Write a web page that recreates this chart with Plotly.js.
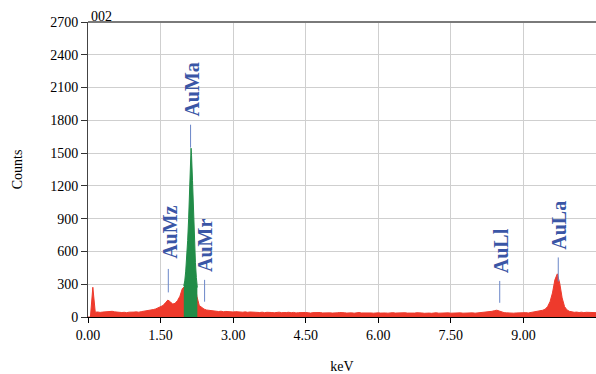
<!DOCTYPE html>
<html>
<head>
<meta charset="utf-8">
<script src="https://cdn.plot.ly/plotly-3.0.1.min.js"></script>
<style>html,body{margin:0;padding:0;background:#fff;}#chart{width:596px;height:374px;}</style>
</head>
<body>
<div id="chart"></div>
<script>
// Spectrum counts, 0.05 keV channels starting at 0.00 keV
const channelStart = 0;
const channelWidth = 0.05;
const counts = [
  0, 0, 272, 44, 46, 42, 45, 48, 44, 49,
  52, 47, 44, 46, 41, 43, 40, 44, 42, 45,
  47, 44, 49, 52, 55, 58, 62, 68, 74, 82,
  92, 105, 130, 155, 140, 118, 125, 150, 190, 260,
  280, 400, 700, 600, 350, 190, 105, 85, 72, 64,
  60,
  57, 52, 55, 50, 53, 48, 51, 47, 50, 46,
  49, 45, 48, 44, 47, 43, 46, 44, 42, 45,
  41, 44, 40, 43, 45, 41, 39, 42, 44, 40,
  38, 41, 43, 39, 42, 37, 40, 42, 38, 41,
  39, 36, 40, 42, 38, 41, 37, 39, 42, 38,
  36, 40, 38, 41, 37, 39, 36, 40, 38, 35,
  39, 41, 37, 38, 36, 40, 37, 35, 39, 38,
  36, 39, 37, 35, 38, 40, 36, 38, 35, 37,
  39, 36, 34, 38, 36, 39, 35, 37, 34, 38,
  36, 34, 37, 39, 35, 37, 34, 36, 38, 35,
  37, 34, 36, 38, 35, 37, 34, 36, 38, 35,
  37, 36, 39, 42, 45, 48, 52, 58, 62, 55,
  46, 40, 38, 36, 38, 35, 37, 39, 36, 38,
  40, 37, 41, 43, 46, 50, 56, 62, 72, 95,
  140, 220, 340, 395, 310, 175, 95, 65, 52, 46,
  43, 45, 41, 44, 40, 43, 41, 39, 42, 40
];
// Highlighted AuMa region (green)
const peakKeV = [1.98, 2.00, 2.02, 2.04, 2.06, 2.08, 2.10, 2.12, 2.13, 2.14, 2.16, 2.18, 2.20, 2.22, 2.24, 2.26];
const peakCounts = [285, 330, 420, 540, 700, 900, 1150, 1420, 1545, 1480, 1250, 960, 700, 500, 360, 270];

// Line identification labels
const lineNames = ["AuMz", "AuMa", "AuMr", "AuLl", "AuLa"];
const lineKeV = [1.66, 2.12, 2.41, 8.51, 9.72];
const markerLow = [225, 1550, 140, 130, 325];
const markerHigh = [440, 1760, 340, 330, 545];
const labelBase = [512, 1812, 394, 384, 595];

const xTicks = [0, 1.5, 3, 4.5, 6, 7.5, 9];
const xTickText = ["0.00", "1.50", "3.00", "4.50", "6.00", "7.50", "9.00"];
const yTicks = [0, 300, 600, 900, 1200, 1500, 1800, 2100, 2400, 2700];

const serif = "Liberation Serif, Times New Roman, serif";
const labelColor = "#3a56a6";
const markerColor = "#6a86c8";

const traces = [
  {
    type: "scatter", mode: "lines",
    x0: channelStart, dx: channelWidth, y: counts,
    line: {color: "#ee3a2c", width: 1},
    fill: "tozeroy", fillcolor: "#ee3a2c",
    hoverinfo: "skip", showlegend: false
  },
  {
    type: "scatter", mode: "lines",
    x: peakKeV, y: peakCounts,
    line: {color: "#218c48", width: 1},
    fill: "tozeroy", fillcolor: "#218c48",
    hoverinfo: "skip", showlegend: false
  }
];

const shapes = [
  {type: "line", xref: "paper", yref: "paper", x0: 0, x1: 1, y0: 1, y1: 1,
   line: {color: "#7a7a7a", width: 2}}
];
const annotations = [
  {xref: "paper", yref: "paper", x: 0, y: 1, xanchor: "left", yanchor: "bottom",
   text: "002", showarrow: false, font: {family: serif, size: 14, color: "#000"}, xshift: 1, yshift: -4}
];
lineNames.forEach((n, i) => {
  shapes.push({type: "line", xref: "x", yref: "y", x0: lineKeV[i], x1: lineKeV[i],
    y0: markerLow[i], y1: markerHigh[i], line: {color: markerColor, width: 1}});
  annotations.push({xref: "x", yref: "y", x: lineKeV[i], y: labelBase[i],
    xanchor: "center", yanchor: "bottom", text: "<b>" + n + "</b>", textangle: -90,
    showarrow: false, font: {family: serif, size: 20, color: labelColor}, xshift: 1});
});

const layout = {
  width: 596, height: 374,
  margin: {l: 88, r: 0, t: 22, b: 57},
  paper_bgcolor: "#fff", plot_bgcolor: "#fff",
  font: {family: serif, size: 14, color: "#000"},
  xaxis: {
    range: [0, 10.5], tickvals: xTicks, ticktext: xTickText,
    ticks: "outside", ticklen: 5, tickcolor: "#000", tickwidth: 1,
    showline: true, linecolor: "#000", linewidth: 1,
    showgrid: true, gridcolor: "#cfcfcf", gridwidth: 1,
    zeroline: false, tickfont: {family: serif, size: 14},
    title: {text: "keV", font: {family: serif, size: 14}, standoff: 20}
  },
  yaxis: {
    range: [0, 2700], tickvals: yTicks,
    ticks: "outside", ticklen: 6, tickcolor: "#333", tickwidth: 1,
    showline: true, linecolor: "#444", linewidth: 1,
    showgrid: true, gridcolor: "#cfcfcf", gridwidth: 1,
    zeroline: false, tickfont: {family: serif, size: 14},
    title: {text: "Counts", font: {family: serif, size: 14}, standoff: 24}
  },
  shapes: shapes,
  annotations: annotations
};

Plotly.newPlot("chart", traces, layout, {staticPlot: true, displayModeBar: false});
</script>
</body>
</html>
